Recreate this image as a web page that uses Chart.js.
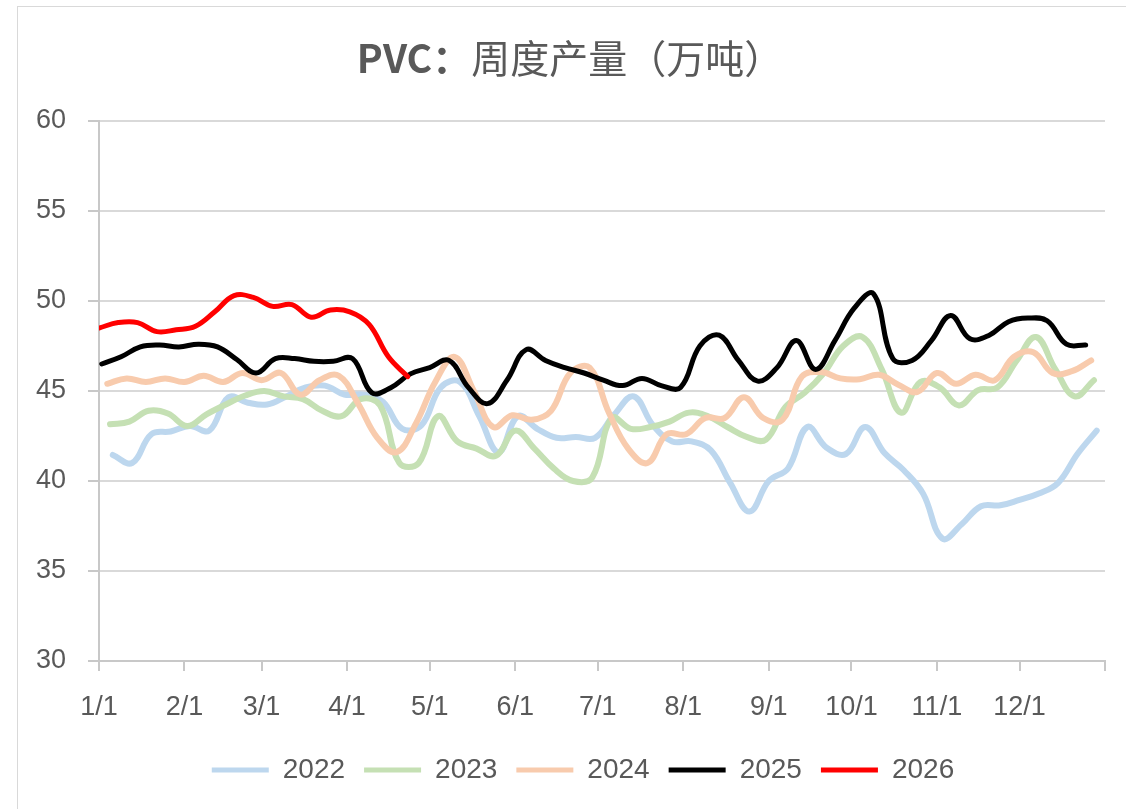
<!DOCTYPE html>
<html>
<head>
<meta charset="utf-8">
<script src="https://cdn.jsdelivr.net/npm/chart.js@4.4.1/dist/chart.umd.min.js"></script>
<style>
  html, body { margin: 0; padding: 0; background: #ffffff; }
  #frame { position: absolute; left: 17px; top: 6px; width: 1200px; height: 900px; border-left: 1px solid #d9d9d9; border-top: 1px solid #d9d9d9; }
  #wrap { position: absolute; left: 0; top: 0; width: 1126px; height: 809px; }
</style>
</head>
<body>
<div id="frame"></div>
<div id="wrap"><canvas id="c" width="1126" height="809"></canvas></div>
<script>
// ---- data ----
const titleBold = 'PVC：';
const titleRest = '周度产量（万吨）';
const monthStartDays = [0, 31, 59, 90, 120, 151, 181, 212, 243, 273, 304, 334, 365];
const monthLabels = ['1/1', '2/1', '3/1', '4/1', '5/1', '6/1', '7/1', '8/1', '9/1', '10/1', '11/1', '12/1', ''];
const years = ['2022', '2023', '2024', '2025', '2026'];
const firstDates = ['2022-01-06', '2023-01-05', '2024-01-04', '2025-01-02', '2026-01-01'];

const v2022 = [41.45, 41.0, 42.6, 42.75, 43.05, 42.8, 44.65, 44.35, 44.25, 44.7, 45.2, 45.3, 44.8,
  44.8, 44.4, 42.9, 43.1, 45.2, 45.5, 43.6, 41.6, 43.6, 42.9, 42.4, 42.45, 42.4,
  43.7, 44.7, 43.1, 42.2, 42.2, 41.7, 39.9, 38.3, 40.0, 40.7, 43.0, 41.85, 41.5,
  43.0, 41.55, 40.6, 39.3, 36.8, 37.6, 38.6, 38.65, 38.95, 39.3, 39.9, 41.5, 42.8];
const v2023 = [43.15, 43.3, 43.9, 43.75, 43.05, 43.7, 44.25, 44.75, 45.0, 44.7, 44.55, 43.9, 43.6,
  44.55, 44.2, 41.0, 41.0, 43.6, 42.2, 41.8, 41.4, 42.8, 41.8, 40.7, 40.0, 40.2,
  43.5, 42.9, 43.0, 43.3, 43.8, 43.6, 43.0, 42.45, 42.3, 44.1, 44.9, 46.0, 47.5,
  48.0, 46.2, 43.8, 45.5, 45.2, 44.2, 45.05, 45.2, 46.7, 48.0, 46.2, 44.7, 45.6];
const v2024 = [45.4, 45.7, 45.5, 45.7, 45.5, 45.85, 45.5, 46.0, 45.6, 46.0, 44.8, 45.6, 45.85,
  44.3, 42.4, 41.6, 43.2, 45.5, 46.9, 45.0, 43.0, 43.65, 43.4, 43.9, 46.0, 46.3,
  43.8, 41.8, 41.0, 42.6, 42.6, 43.5, 43.5, 44.65, 43.5, 43.4, 45.8, 46.05, 45.7,
  45.65, 45.9, 45.35, 44.95, 46.0, 45.4, 45.9, 45.6, 46.9, 47.15, 46.0, 46.1, 46.7];
const v2025 = [46.5, 46.9, 47.45, 47.55, 47.45, 47.6, 47.45, 46.75, 46.0, 46.8, 46.8, 46.65, 46.65,
  46.8, 44.9, 45.2, 45.95, 46.3, 46.7, 45.2, 44.3, 45.6, 47.3, 46.7, 46.3, 46.0,
  45.6, 45.3, 45.7, 45.3, 45.2, 47.5, 48.1, 46.7, 45.55, 46.3, 47.8, 46.2, 47.8,
  49.6, 50.4, 46.8, 46.7, 47.8, 49.2, 47.9, 48.1, 48.85, 49.05, 48.9, 47.6, 47.55];
const v2026 = [48.5, 48.8, 48.8, 48.3, 48.4, 48.6, 49.4, 50.3, 50.2, 49.7, 49.8, 49.1, 49.5,
  49.4, 48.7, 46.9, 45.8];

const seriesValues = [v2022, v2023, v2024, v2025, v2026];
const colors = ['#BDD7EE', '#C5E0B4', '#F8CBAD', '#000000', '#FF0000'];
const widths = [6, 6, 6, 5, 5];

// ---- build ----
function dayOfYear(iso) {
  const d = new Date(iso + 'T00:00:00Z');
  const y0 = new Date(Date.UTC(d.getUTCFullYear(), 0, 1));
  return (d - y0) / 86400000;
}
const datasets = years.map((y, k) => {
  const start = dayOfYear(firstDates[k]);
  return {
    label: y,
    data: seriesValues[k].map((v, i) => ({ x: start + 7 * i, y: v })),
    borderColor: colors[k],
    backgroundColor: colors[k],
    borderWidth: widths[k],
    pointRadius: 0,
    pointHoverRadius: 0,
    tension: 0.4,
    fill: false,
    borderCapStyle: 'round',
    borderJoinStyle: 'round',
    order: years.length - k
  };
});

// fixed legend box height and a small horizontal shift, so the layout is deterministic
const legendPlugin = Chart.registry.getPlugin('legend');
const LegendEl = legendPlugin && legendPlugin._element;
if (LegendEl) {
  const origFit = LegendEl.prototype.fit;
  LegendEl.prototype.fit = function () {
    origFit.call(this);
    if (this.isHorizontal()) this.height = 72;
  };
  const origDraw = LegendEl.prototype.draw;
  LegendEl.prototype.draw = function (...args) {
    const c = this.ctx;
    c.save();
    c.translate(-19, 0);
    origDraw.apply(this, args);
    c.restore();
  };
}

const titlePlugin = {
  id: 'twoPartTitle',
  afterDraw(chart) {
    const ctx = chart.ctx;
    ctx.save();
    ctx.fillStyle = '#595959';
    ctx.textBaseline = 'middle';
    const fb = "bold 39px 'Noto Sans CJK SC', 'Liberation Sans', sans-serif";
    const fn = "39px 'Noto Sans CJK SC', sans-serif";
    ctx.font = fb; const w1 = ctx.measureText(titleBold).width;
    ctx.font = fn; const w2 = ctx.measureText(titleRest).width;
    const x0 = 570 - (w1 + w2) / 2;
    ctx.textAlign = 'left';
    ctx.font = fb; ctx.fillText(titleBold, x0, 58);
    ctx.font = fn; ctx.fillText(titleRest, x0 + w1, 58);
    ctx.restore();
  }
};

const tickFont = { family: "'Liberation Sans', 'DejaVu Sans', sans-serif", size: 27 };
const legendFont = { family: "'Liberation Sans', 'DejaVu Sans', sans-serif", size: 28 };

new Chart(document.getElementById('c'), {
  type: 'line',
  data: { datasets },
  plugins: [titlePlugin],
  options: {
    responsive: false,
    animation: false,
    events: [],
    layout: { padding: { top: 121, left: 0, right: 21, bottom: 0 } },
    plugins: {
      title: { display: false },
      tooltip: { enabled: false },
      legend: {
        position: 'bottom',
        fullSize: false,
        labels: {
          font: legendFont,
          color: '#595959',
          boxWidth: 57,
          boxHeight: 5,
          padding: 19,
          useBorderRadius: true,
          borderRadius: 2.5,
          sort: (a, b) => a.datasetIndex - b.datasetIndex,
          generateLabels(chart) {
            return chart.data.datasets.map((ds, i) => ({
              text: ds.label,
              fillStyle: ds.borderColor,
              strokeStyle: ds.borderColor,
              lineWidth: 0,
              fontColor: '#595959',
              datasetIndex: i,
              hidden: false
            }));
          }
        }
      }
    },
    scales: {
      x: {
        type: 'linear',
        min: 0,
        max: 365,
        afterBuildTicks(scale) { scale.ticks = monthStartDays.map(v => ({ value: v })); },
        afterFit(scale) { scale.height = 76; },
        ticks: {
          autoSkip: false,
          maxRotation: 0,
          padding: 20,
          font: tickFont,
          color: '#595959',
          callback(value) {
            const idx = monthStartDays.indexOf(value);
            return idx >= 0 ? monthLabels[idx] : '';
          }
        },
        grid: { display: true, drawOnChartArea: false, drawTicks: true, tickLength: 10, color: '#c8c8c8', lineWidth: 2 },
        border: { display: true, color: '#c8c8c8', width: 2 }
      },
      y: {
        min: 30,
        max: 60,
        afterFit(scale) { scale.width = 99; },
        ticks: { stepSize: 5, padding: 22, font: tickFont, color: '#595959' },
        grid: { color: '#d9d9d9', lineWidth: 2, drawTicks: true, tickLength: 11, tickColor: '#c8c8c8' },
        border: { display: true, color: '#c8c8c8', width: 2 }
      }
    }
  }
});
</script>
</body>
</html>
